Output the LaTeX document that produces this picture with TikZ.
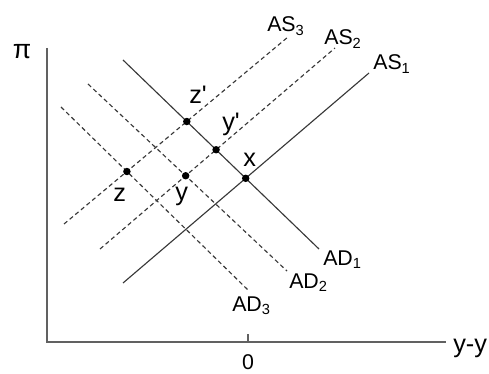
\documentclass[tikz,border=0pt]{standalone}
\usepackage{fontspec}
\setmainfont{Liberation Sans}
\newcommand{\capsz}{\fontsize{16}{18}\selectfont}
\newcommand{\lowsz}{\fontsize{19}{21}\selectfont}
\newcommand{\mysub}[1]{\raisebox{-2.6pt}{\fontsize{11}{12}\selectfont #1}}
\begin{document}
\begin{tikzpicture}[x=0.75pt,y=-0.75pt,
  axis/.style={draw=black!62,line width=1.1pt},
  curve/.style={draw=black!78,line width=0.85pt},
  dcurve/.style={curve,dash pattern=on 3.2pt off 2.3pt},
  caplbl/.style={inner sep=0pt,anchor=base west,font=\capsz},
  lowlbl/.style={inner sep=0pt,anchor=base west,font=\lowsz},
  eqdot/.style={fill=black,circle,inner sep=0pt,minimum size=5.6pt}]
\useasboundingbox (0,0) rectangle (489,374);
% axes
\coordinate (o) at (47,342);
\coordinate (ytop) at (47,48);
\coordinate (xend) at (446,342);
\coordinate (t0) at (248,342);
\coordinate (t1) at (248,334);
\draw[axis] (ytop) -- (o) -- (xend);
\draw[axis] (t0) -- (t1);
\node[inner sep=0pt,font=\fontsize{20}{22}\selectfont] (pi) at (22,52) {π};
\node[inner sep=0pt,anchor=base,font=\fontsize{16}{18}\selectfont] (zero) at (248,369) {0};
\node[lowlbl] (gap) at (453,352) {y-y};
% curve endpoints
\coordinate (as1a) at (123,283); \coordinate (as1b) at (369,73);
\coordinate (as2a) at (100,249); \coordinate (as2b) at (335,48);
\coordinate (as3a) at (64,224);  \coordinate (as3b) at (288,37);
\coordinate (ad1a) at (123,60);  \coordinate (ad1b) at (319,249);
\coordinate (ad2a) at (88,84);   \coordinate (ad2b) at (287,271);
\coordinate (ad3a) at (61,107);  \coordinate (ad3b) at (248,290);
\draw[curve] (as1a) -- (as1b);
\draw[dcurve] (as2a) -- (as2b);
\draw[dcurve] (as3a) -- (as3b);
\draw[curve] (ad1a) -- (ad1b);
\draw[dcurve] (ad2a) -- (ad2b);
\draw[dcurve] (ad3a) -- (ad3b);
% curve labels
\node[caplbl] (AS3) at (267,32) {AS\mysub{3}};
\node[caplbl] (AS2) at (324,45) {AS\mysub{2}};
\node[caplbl] (AS1) at (373,70) {AS\mysub{1}};
\node[caplbl] (AD1) at (323,265) {AD\mysub{1}};
\node[caplbl] (AD2) at (289,288) {AD\mysub{2}};
\node[caplbl] (AD3) at (232,311) {AD\mysub{3}};
% equilibrium points
\node[eqdot] (px)  at (intersection of as1a--as1b and ad1a--ad1b) {};
\node[eqdot] (pyp) at (intersection of as2a--as2b and ad1a--ad1b) {};
\node[eqdot] (pzp) at (intersection of as3a--as3b and ad1a--ad1b) {};
\node[eqdot] (py)  at (intersection of as2a--as2b and ad2a--ad2b) {};
\node[eqdot] (pz)  at (intersection of as3a--as3b and ad3a--ad3b) {};
\node[lowlbl] (lzp) at (189,104) {z\textquotesingle};
\node[lowlbl] (lyp) at (222,131) {y\textquotesingle};
\node[lowlbl] (lx)  at (243,167) {x};
\node[lowlbl] (lz)  at (113,202) {z};
\node[lowlbl] (ly)  at (175,200) {y};
\end{tikzpicture}
\end{document}
